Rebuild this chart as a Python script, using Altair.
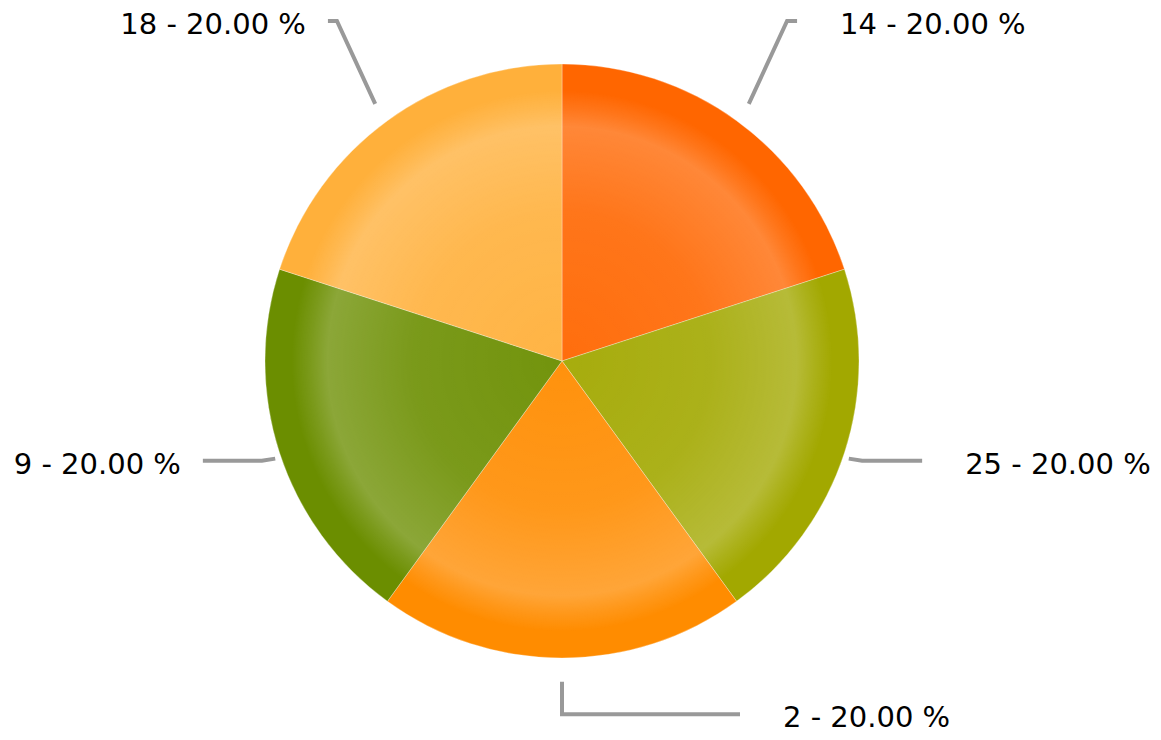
import math
import altair as alt
import pandas as pd

# ---- data ----
labels = ["14", "25", "2", "9", "18"]
values = [20, 20, 20, 20, 20]
colors = ["#FF6600", "#A2A800", "#FF8C00", "#6B8E00", "#FFB03B"]

# ---- layout (pixels, view coordinates) ----
CX, CY, R = 554, 353, 297
START_R = [1.07, 1.02, 1.08, 1.02, 1.07]
START_NUDGE = [0.0, 0.8, 0.0, -0.8, 0.0]
ELBOW_R = [1.373, 1.065, 1.189, 1.065, 1.373]
ELBOW_NUDGE = [-2.5, 0.4, 0.0, -0.4, 2.5]
HSEG = [10, 60, 178, -59, -9]
GAP_RIGHT, GAP_LEFT = 43, 22

total = sum(values)
pct = [v / total * 100 for v in values]
df = pd.DataFrame({"label": labels, "value": values, "idx": list(range(len(labels)))})

def polar(a_deg, r):
    a = math.radians(a_deg)
    return CX + r * math.sin(a), CY - r * math.cos(a)

line_rows, text_rows = [], []
cum = 0
for i, (lab, v) in enumerate(zip(labels, values)):
    mid = (cum + v / 2) / total * 360
    cum += v
    sx, sy = polar(mid + START_NUDGE[i], START_R[i] * R)
    ex, ey = polar(mid + ELBOW_NUDGE[i], ELBOW_R[i] * R)
    hx = ex + HSEG[i]
    for s, (px, py) in enumerate([(sx, sy), (ex, ey), (hx, ey)]):
        line_rows.append({"label": lab, "seq": s, "px": px, "py": py})
    right = HSEG[i] >= 0
    text_rows.append({
        "label": lab,
        "text": f"{lab} - {pct[i]:.2f} %",
        "tx": hx + (GAP_RIGHT if right else -GAP_LEFT),
        "ty": ey + 13,
        "side": "right" if right else "left",
    })

lines_df = pd.DataFrame(line_rows)
text_df = pd.DataFrame(text_rows)

slices = alt.Chart(df).mark_arc(
    radius=R, stroke="#ffffff", strokeWidth=0.6, strokeOpacity=0.5
).encode(
    theta=alt.Theta("value:Q", stack=True),
    order=alt.Order("idx:Q"),
    color=alt.Color("label:N", scale=alt.Scale(domain=labels, range=colors), legend=None),
    x=alt.value(CX),
    y=alt.value(CY),
)

gradient = {
    "gradient": "radial",
    "x1": 0.5, "y1": 0.5, "r1": 0,
    "x2": 0.5, "y2": 0.5, "r2": 0.5,
    "stops": [
        {"offset": 0.0, "color": "rgba(255,255,255,0.05)"},
        {"offset": 0.5, "color": "rgba(255,255,255,0.10)"},
        {"offset": 0.79, "color": "rgba(255,255,255,0.22)"},
        {"offset": 0.85, "color": "rgba(255,255,255,0.10)"},
        {"offset": 0.91, "color": "rgba(255,255,255,0.0)"},
        {"offset": 1.0, "color": "rgba(255,255,255,0.0)"},
    ],
}
overlay = alt.Chart(pd.DataFrame({"k": [0]})).mark_arc(
    radius=R, theta=0, theta2=2 * math.pi, color=gradient, strokeWidth=0
).encode(x=alt.value(CX), y=alt.value(CY))

leaders = alt.Chart(lines_df).mark_line(
    color="#999999", strokeWidth=4, strokeJoin="miter", strokeCap="butt"
).encode(
    x=alt.X("px:Q", scale=None, axis=None),
    y=alt.Y("py:Q", scale=None, axis=None),
    detail="label:N",
    order="seq:Q",
)

def label_layer(side, align):
    return alt.Chart(text_df).transform_filter(
        alt.datum.side == side
    ).mark_text(
        align=align, baseline="alphabetic", font="DejaVu Sans", fontSize=29, color="#000000"
    ).encode(
        x=alt.X("tx:Q", scale=None, axis=None),
        y=alt.Y("ty:Q", scale=None, axis=None),
        text="text:N",
    )

chart = alt.layer(
    slices, overlay, leaders, label_layer("right", "left"), label_layer("left", "right")
).properties(
    width=1145, height=730, autosize="none", padding=0
).configure_view(stroke=None)

chart.save("out.html", embed_options={"renderer": "svg", "actions": False})
